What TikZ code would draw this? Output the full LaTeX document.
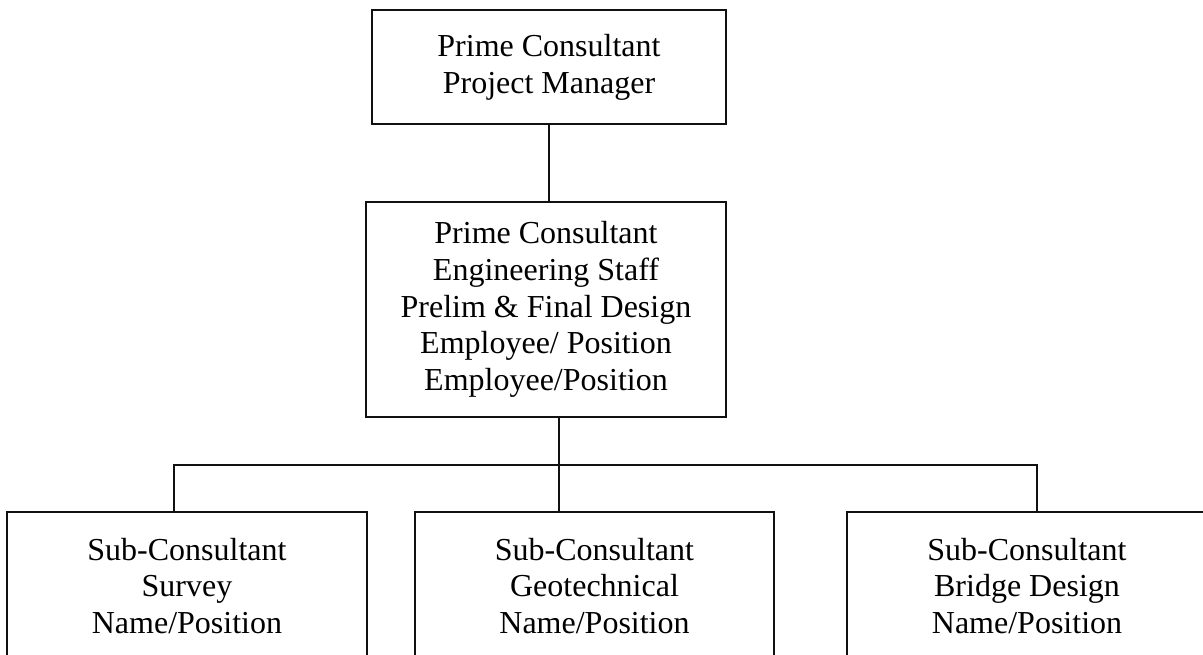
\documentclass[tikz,border=0pt]{standalone}
\usepackage{fontspec}
\setmainfont{Liberation Serif}
\usepackage{xcolor}
\usetikzlibrary{positioning}
\definecolor{orgink}{HTML}{111111}

\begin{document}
\begin{tikzpicture}[
    x=0.5pt,
    y=-0.5pt,
    orgbox/.style={rectangle, draw=orgink, line width=1.3pt, align=center, inner sep=0pt,
      font=\fontsize{16}{18.4}\selectfont},
    link/.style={draw=orgink, line width=1.3pt}
  ]
    \useasboundingbox (0,0) rectangle (1203,654);
    \clip (0,0) rectangle (1203,654);

    % prime consultant
    \node[orgbox, minimum width=177pt, minimum height=57pt] (pm) at (549,67)
      {Prime Consultant\\Project Manager};
    \node[orgbox, minimum width=180pt, minimum height=107.5pt] (eng) at (546,309.5)
      {Prime Consultant\\Engineering Staff\\Prelim \& Final Design\\Employee/ Position\\Employee/Position};

    % sub-consultants
    \node[orgbox, minimum width=180pt, minimum height=74pt] (survey) at (187,586)
      {Sub-Consultant\\Survey\\Name/Position};
    \node[orgbox, minimum width=179.5pt, minimum height=74pt] (geo) at (594.5,586)
      {Sub-Consultant\\Geotechnical\\Name/Position};
    \node[orgbox, minimum width=180pt, minimum height=74pt] (bridge) at (1027,586)
      {Sub-Consultant\\Bridge Design\\Name/Position};

    \coordinate (bus-l) at (174,465);
    \coordinate (bus-m) at (559,465);
    \coordinate (bus-r) at (1037,465);

    \draw[link] (pm.south) -- (pm.south |- eng.north);
    \draw[link] (eng.south -| bus-m) -- (geo.north -| bus-m);
    \draw[link] (survey.north -| bus-l) -- (bus-l) -- (bus-r) -- (bridge.north -| bus-r);

  \end{tikzpicture}
\end{document}
